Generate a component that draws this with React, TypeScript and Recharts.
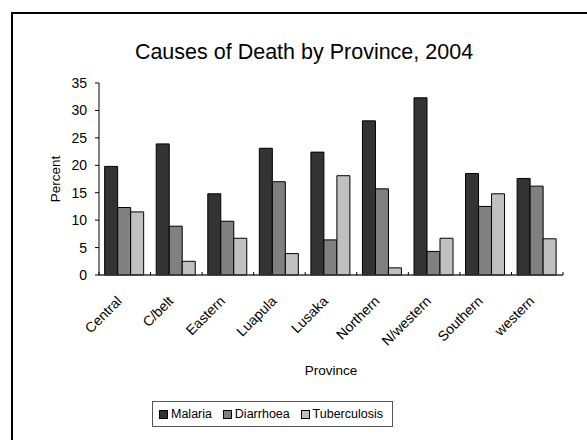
import React from "react";
import { BarChart, Bar, XAxis, YAxis, Legend } from "recharts";

const provinces = [
  "Central",
  "C/belt",
  "Eastern",
  "Luapula",
  "Lusaka",
  "Northern",
  "N/western",
  "Southern",
  "western",
];
const malaria = [19.8, 23.9, 14.8, 23.1, 22.4, 28.1, 32.3, 18.5, 17.6];
const diarrhoea = [12.3, 8.9, 9.8, 17.0, 6.4, 15.7, 4.3, 12.5, 16.2];
const tuberculosis = [11.5, 2.5, 6.7, 3.9, 18.1, 1.3, 6.7, 14.8, 6.6];
const yTicks = [0, 5, 10, 15, 20, 25, 30, 35];

const series = [
  { key: "Malaria", color: "#333333" },
  { key: "Diarrhoea", color: "#808080" },
  { key: "Tuberculosis", color: "#c0c0c0" },
];

const data = provinces.map((p, i) => ({
  province: p,
  Malaria: malaria[i],
  Diarrhoea: diarrhoea[i],
  Tuberculosis: tuberculosis[i],
}));

// page reset so the chart sits at 0,0 without scrollbars
document.body.style.margin = "0";
document.body.style.overflow = "hidden";
document.documentElement.style.overflow = "hidden";

const W = 587;
const H = 440;
const margin = { top: 83, right: 24, left: 12, bottom: 13 };
const yAxisWidth = 87;
const step = (W - margin.left - margin.right - yAxisWidth) / provinces.length;
const font = "'Liberation Sans', Arial, sans-serif";

function ProvinceTick(props: any) {
  const { x, y, payload, index } = props;
  const half = step / 2;
  return (
    <g>
      <line x1={x - half} x2={x - half} y1={y - 3} y2={y} stroke="#000" />
      {index === provinces.length - 1 && (
        <line x1={x + half} x2={x + half} y1={y - 3} y2={y} stroke="#000" />
      )}
      <text
        transform={`translate(${x - 2},${y + 27}) rotate(-45)`}
        textAnchor="end"
        fontSize={14}
        fontFamily={font}
        fill="#000"
      >
        {payload.value}
      </text>
    </g>
  );
}

function LegendBox() {
  return (
    <div
      style={{
        boxSizing: "border-box",
        height: 26,
        border: "1px solid #555",
        display: "flex",
        alignItems: "center",
        justifyContent: "space-between",
        padding: "0 9px 0 6px",
        fontFamily: font,
        fontSize: 12.5,
        color: "#000",
        background: "#fff",
      }}
    >
      {series.map((s) => (
        <span key={s.key} style={{ display: "flex", alignItems: "center" }}>
          <span
            style={{
              display: "inline-block",
              boxSizing: "border-box",
              width: 9,
              height: 9,
              background: s.color,
              border: "1px solid #000",
              marginRight: 3,
            }}
          />
          {s.key}
        </span>
      ))}
    </div>
  );
}

export default function App() {
  return (
    <div
      style={{
        position: "relative",
        width: W,
        height: H,
        overflow: "hidden",
        background: "#fff",
      }}
    >
      <div
        style={{
          position: "absolute",
          left: 11,
          top: 12,
          right: 0,
          bottom: 0,
          borderTop: "2px solid #000",
          borderLeft: "2px solid #000",
        }}
      />
      <div
        style={{
          position: "absolute",
          left: 0,
          top: 40,
          width: 608,
          textAlign: "center",
          fontFamily: font,
          fontSize: 21.5,
          lineHeight: "24px",
          color: "#000",
        }}
      >
        Causes of Death by Province, 2004
      </div>
      <div style={{ position: "absolute", left: 0, top: 0 }}>
        <BarChart
          width={W}
          height={H}
          data={data}
          margin={margin}
          barCategoryGap="11%"
          barGap={0}
          accessibilityLayer={false}
        >
          <XAxis
            dataKey="province"
            height={126}
            interval={0}
            tickSize={0}
            tickMargin={0}
            tickLine={false}
            tick={<ProvinceTick />}
            axisLine={{ stroke: "#333", strokeWidth: 1.5 }}
            label={{
              value: "Province",
              position: "insideBottom",
              offset: 26,
              fontSize: 13.5,
              fontFamily: font,
              fill: "#000",
            }}
          />
          <YAxis
            width={yAxisWidth}
            domain={[0, 35]}
            ticks={yTicks}
            interval={0}
            tickSize={4}
            tickMargin={8}
            axisLine={{ stroke: "#000" }}
            tickLine={{ stroke: "#000" }}
            tick={{ fontSize: 14, fontFamily: font, fill: "#000" }}
            label={{
              value: "Percent",
              angle: -90,
              position: "center",
              fontSize: 13.5,
              fontFamily: font,
              fill: "#000",
            }}
          />
          <Legend
            verticalAlign="bottom"
            content={<LegendBox />}
            wrapperStyle={{ left: 152, width: 241, height: 26, bottom: 13 }}
          />
          {series.map((s) => (
            <Bar
              key={s.key}
              dataKey={s.key}
              fill={s.color}
              stroke="#000"
              strokeWidth={1}
              isAnimationActive={false}
            />
          ))}
        </BarChart>
      </div>
      <div
        style={{
          position: "fixed",
          left: 568,
          top: 200,
          width: 19,
          height: 240,
          background: "#fff",
          zIndex: 9999,
        }}
      />
    </div>
  );
}
